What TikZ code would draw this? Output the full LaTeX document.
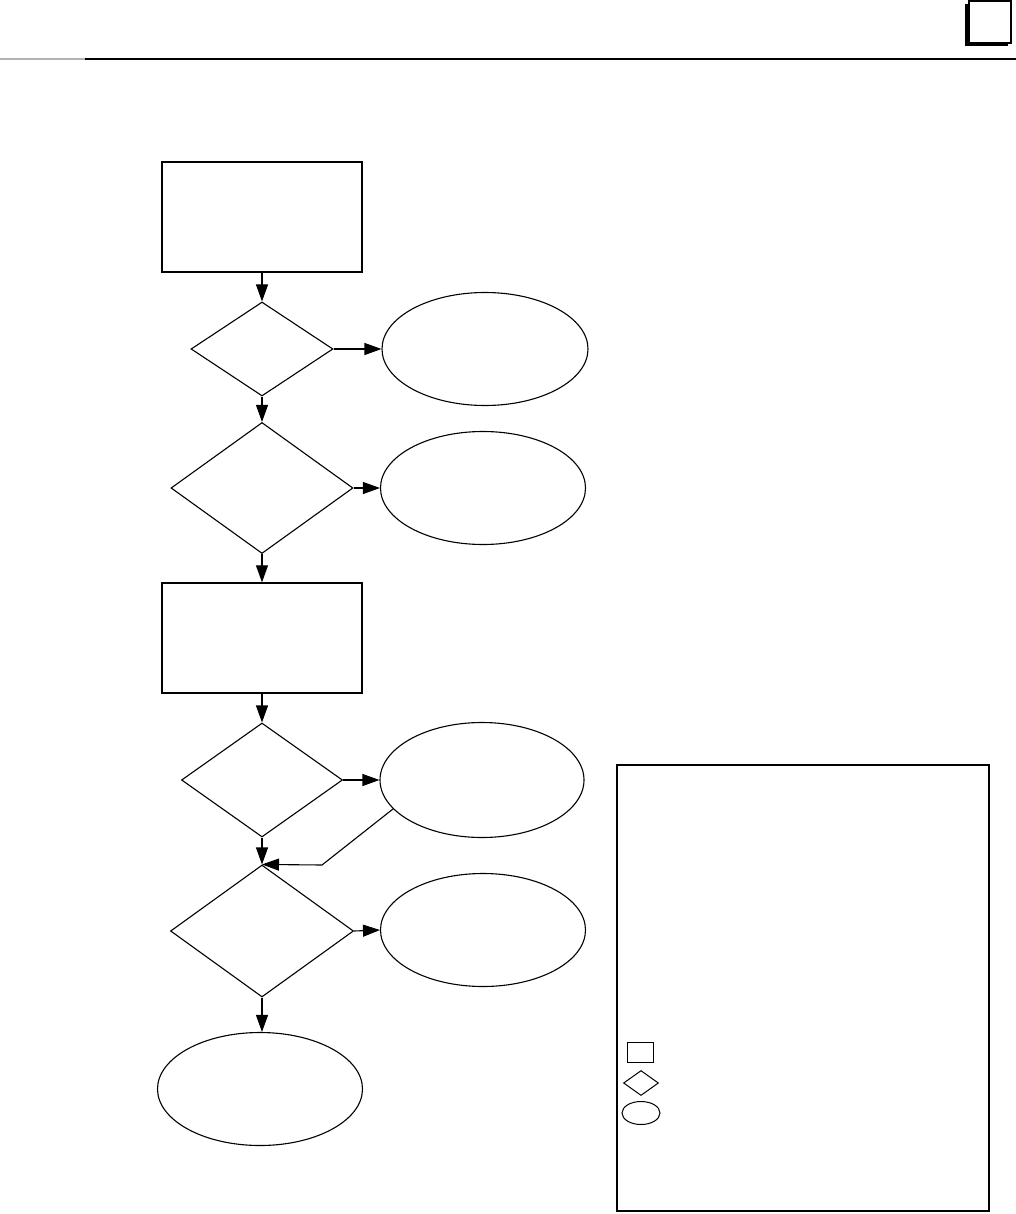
\documentclass[tikz,border=0pt]{standalone}
\usepackage{tikz}
\usetikzlibrary{shapes.geometric, arrows.meta, positioning}

\begin{document}
\begin{tikzpicture}[
  x=1pt, y=-1pt,
  procbox/.style={draw, line width=1.3pt, minimum width=200pt, minimum height=110pt, inner sep=0pt},
  decision/.style={draw, diamond, line width=1.1pt, inner sep=0pt},
  result/.style={draw, ellipse, line width=1.1pt, minimum width=205pt, minimum height=113pt, inner sep=0pt},
  legendsym/.style={draw, line width=1pt, inner sep=0pt},
  arr/.style={-{Triangle[length=17pt, width=12pt]}, line width=1.1pt}
]
\useasboundingbox (0,0) rectangle (1016,1214);

% Page header
\fill (965,4) rectangle (1008,46);
\node[draw, fill=white, line width=1.4pt, minimum size=42pt, inner sep=0pt] (pagebox) at (990,22) {};
\draw[gray!60, line width=2pt] (0,59) -- (85,59);
\draw[line width=2pt] (85,59) -- (1016,59);

% Main column
\node[procbox] (B1) at (262,217) {};
\node[decision, minimum width=142pt, minimum height=94pt] (D1) at (262,349) {};
\node[decision, minimum width=182pt, minimum height=131pt] (D2) at (262,488) {};
\node[procbox] (B2) at (262,638) {};
\node[decision, minimum width=161pt, minimum height=114pt] (D3) at (262,780) {};
\node[decision, minimum width=183pt, minimum height=132pt] (D4) at (262,931) {};
\node[result] (E5) at (260,1089) {};

% Side outcomes
\node[result, minimum width=206pt] (E1) at (485,349) {};
\node[result] (E2) at (483,488) {};
\node[result, minimum width=204pt, minimum height=115pt] (E3) at (482,780) {};
\node[result] (E4) at (483,930) {};

% Arrows down the column
\draw[arr] (B1) -- (D1);
\draw[arr] (D1) -- (D2);
\draw[arr] (D2) -- (B2);
\draw[arr] (B2) -- (D3);
\draw[arr] (D3) -- (D4);
\draw[arr] (D4.south) -- (D4.south |- E5.north);

% Arrows to the side
\draw[arr] (D1.east) -- (E1.west);
\draw[arr] (D2.east) -- (E2.west);
\draw[arr] (D3.east) -- (E3.west);
\draw[arr] (D4.east) -- (E4.west);

% Return path
\coordinate (bend) at (322,865);
\draw[arr] (E3.198) -- (bend) -- (D4.north);

% Legend
\node[draw, line width=1.6pt, minimum width=372pt, minimum height=446pt, inner sep=0pt] (legend) at (803,988) {};
\node[legendsym, minimum width=26pt, minimum height=20pt] (Lbox) at (640,1052) {};
\node[legendsym, diamond, minimum width=35pt, minimum height=25pt] (Ldia) at (641,1083) {};
\node[legendsym, ellipse, minimum width=38pt, minimum height=23pt] (Lell) at (641,1113) {};

\end{tikzpicture}
\end{document}
